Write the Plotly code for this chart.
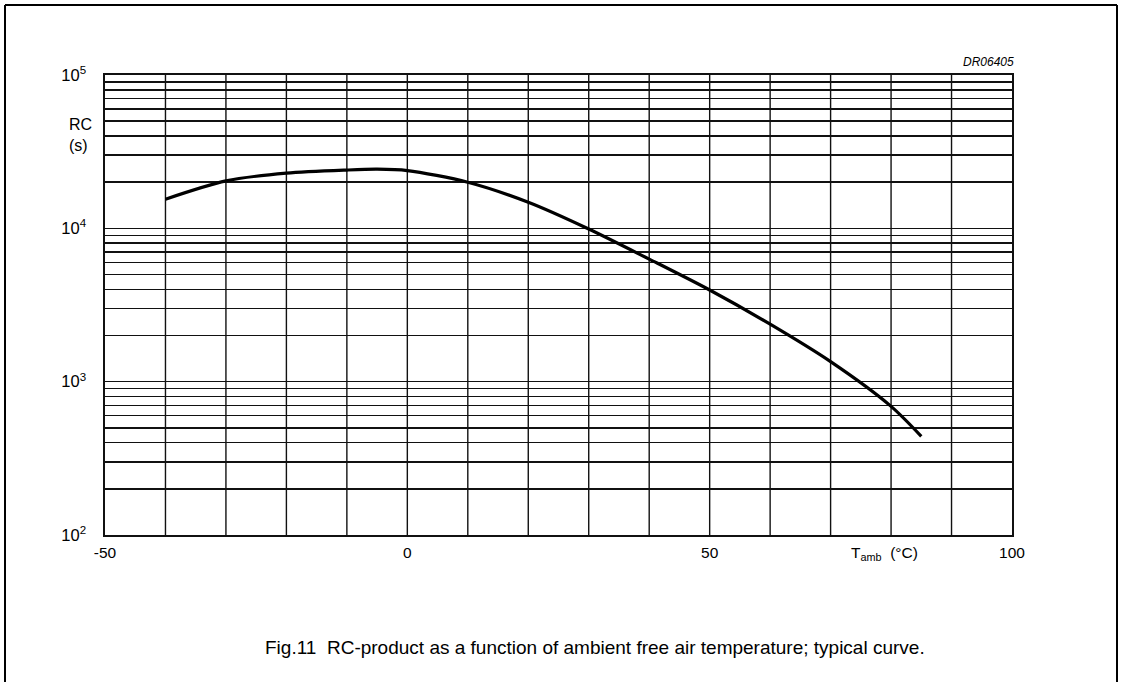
import plotly.graph_objects as go

# Data
temp_c = [-40, -30, -20, -10, -5, 0, 10, 20, 30, 40, 50, 60, 70, 80, 85]
rc_s = [15500, 20400, 22900, 24000, 24300, 23800, 20000, 14800, 9900, 6300, 3960, 2370, 1350, 690, 440]

x_tickvals = [-50, 0, 50, 100]
x_ticktext = ["-50", "0", "50", "100"]
x_gridvals = [-40, -30, -20, -10, 0, 10, 20, 30, 40, 50, 60, 70, 80, 90]

y_decades = [100, 1000, 10000, 100000]
y_decade_text = ["10<sup>2</sup>", "10<sup>3</sup>", "10<sup>4</sup>", "10<sup>5</sup>"]
y_minor_mult = [2, 3, 4, 5, 6, 7, 8, 9]

y_tickvals = []
y_ticktext = []
for d, t in zip(y_decades, y_decade_text):
    y_tickvals.append(d)
    y_ticktext.append(t)
    if d < 100000:
        for m in y_minor_mult:
            y_tickvals.append(d * m)
            y_ticktext.append("")

FONT = "Liberation Sans, Arial, sans-serif"
INK = "#111111"

# plot area in page pixels (body margin removed via post_script)
PX_L, PX_R, PX_T, PX_B = 105, 1012, 75, 535
W, H = 1126, 682
PW, PH = PX_R - PX_L, PX_B - PX_T


def px(xp):
    return (xp - PX_L) / PW


def py(yp):
    return (PX_B - yp) / PH


fig = go.Figure()
fig.add_trace(go.Scatter(
    x=temp_c, y=rc_s, mode="lines",
    line=dict(color="black", width=3.2, shape="spline", smoothing=0.8),
    hoverinfo="skip", showlegend=False,
))

fig.update_layout(
    width=W, height=H,
    margin=dict(l=PX_L, r=W - PX_R, t=PX_T, b=H - PX_B),
    paper_bgcolor="white", plot_bgcolor="white",
    font=dict(family=FONT, color="black", size=15),
    showlegend=False,
)

fig.update_xaxes(
    range=[-50, 100],
    tickvals=x_tickvals, ticktext=x_ticktext,
    showgrid=False, zeroline=False,
    showline=True, linecolor=INK, linewidth=1.6, mirror=True,
    ticks="", ticklabelstandoff=3,
    tickfont=dict(size=15.5, family=FONT),
)
fig.update_yaxes(
    type="log", range=[2, 5],
    tickvals=y_tickvals, ticktext=y_ticktext,
    showgrid=True, gridcolor=INK, gridwidth=1.4,
    zeroline=False,
    showline=True, linecolor=INK, linewidth=1.6, mirror=True,
    ticks="", ticklabelstandoff=14,
    tickfont=dict(size=16.5, family=FONT),
)

# vertical grid lines every 10 degC
for gx in x_gridvals:
    fig.add_shape(type="line", xref="x", yref="paper", x0=gx, x1=gx, y0=0, y1=1,
                  line=dict(color=INK, width=1.4), layer="below")

# outer frame of the figure
fl, fr, ft, fb = px(5), px(1117), py(5), py(700)
fig.add_shape(type="line", xref="paper", yref="paper", x0=fl, x1=fl, y0=fb, y1=ft,
              line=dict(color="black", width=2))
fig.add_shape(type="line", xref="paper", yref="paper", x0=fr, x1=fr, y0=fb, y1=ft,
              line=dict(color="black", width=2))
fig.add_shape(type="line", xref="paper", yref="paper", x0=fl, x1=fr, y0=ft, y1=ft,
              line=dict(color="black", width=2))

# axis titles and texts
fig.add_annotation(xref="paper", yref="paper", x=px(67), y=py(135),
                   text="RC<br>(s)", showarrow=False, xanchor="left", yanchor="middle", align="left",
                   font=dict(size=16, family=FONT))
fig.add_annotation(xref="paper", yref="paper", x=px(849), y=py(553),
                   text="T<sub>amb</sub>  (°C)", showarrow=False, xanchor="left", yanchor="middle",
                   font=dict(size=15.5, family=FONT))
fig.add_annotation(xref="paper", yref="paper", x=px(1016), y=py(62),
                   text="<i>DR06405</i>", showarrow=False, xanchor="right", yanchor="middle",
                   font=dict(size=12, family=FONT))
fig.add_annotation(xref="paper", yref="paper", x=px(595), y=py(647),
                   text="Fig.11  RC-product as a function of ambient free air temperature; typical curve.",
                   showarrow=False, xanchor="center", yanchor="middle",
                   font=dict(size=19, family=FONT))

fig.write_html("out.html", config={"displayModeBar": False, "staticPlot": True},
               post_script="document.body.style.margin='0';")
